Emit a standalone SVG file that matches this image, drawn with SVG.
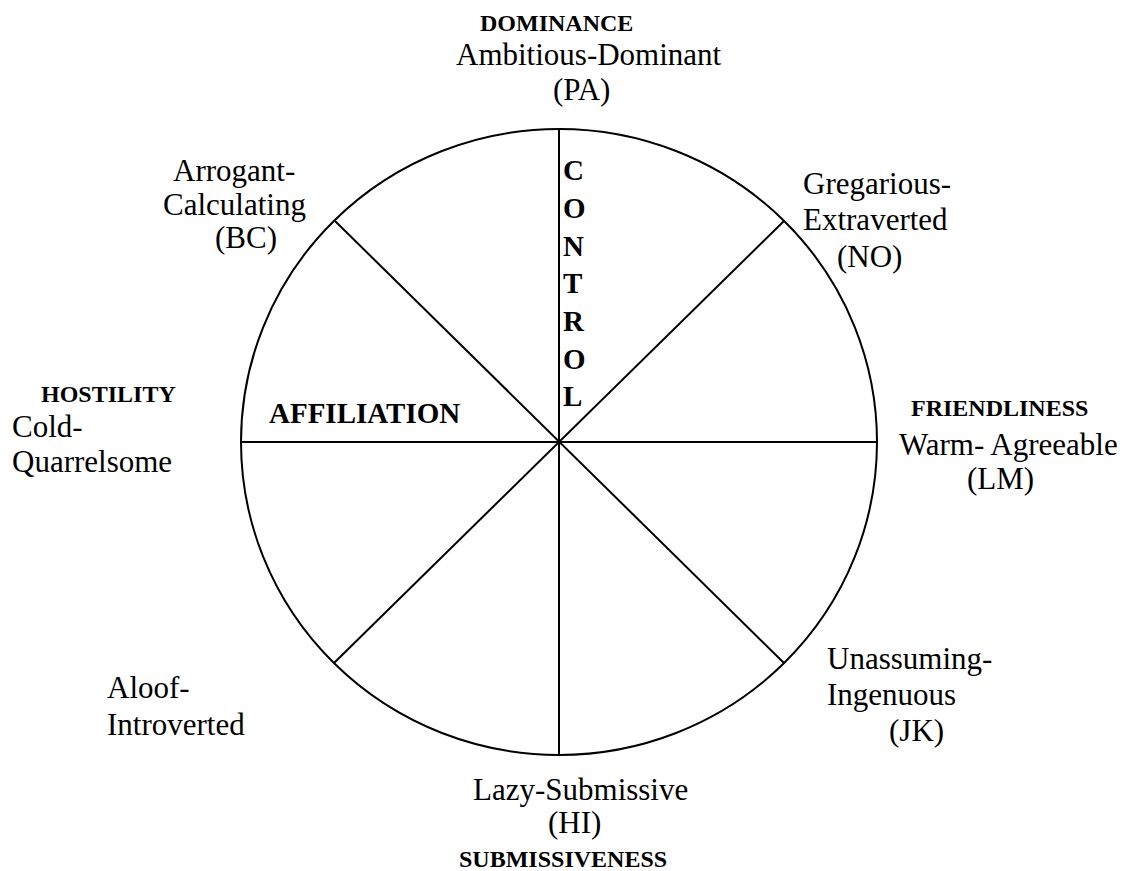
<svg xmlns="http://www.w3.org/2000/svg" width="1139" height="871" viewBox="0 0 1139 871">
<style>
text{font-family:"Liberation Serif","Times New Roman",serif;fill:#000;}
.r{font-size:31px;}
.b{font-size:24px;font-weight:bold;}
.bb{font-size:29px;font-weight:bold;}
.ln{stroke:#000;stroke-width:2;fill:none;}
</style>
<rect width="1139" height="871" fill="#fff"/>
<g id="circle">
<ellipse class="ln" cx="559" cy="442" rx="318" ry="313"/>
</g>
<g id="connectors">
<line class="ln" x1="559" y1="129" x2="559" y2="755"/>
<line class="ln" x1="241" y1="442" x2="877" y2="442"/>
<line class="ln" x1="335" y1="221" x2="784" y2="663"/>
<line class="ln" x1="784" y1="221" x2="334" y2="663"/>
</g>
<g id="dominance">
<text class="b" x="480" y="31">DOMINANCE</text>
<text class="r" x="456" y="65">Ambitious-Dominant</text>
<text class="r" x="553" y="100">(PA)</text>
</g>
<g id="arrogant">
<text class="r" x="173" y="181">Arrogant-</text>
<text class="r" x="163" y="215">Calculating</text>
<text class="r" x="215" y="248">(BC)</text>
</g>
<g id="gregarious">
<text class="r" x="803" y="194">Gregarious-</text>
<text class="r" x="803" y="230">Extraverted</text>
<text class="r" x="837" y="267">(NO)</text>
</g>
<g id="friendliness">
<text class="b" x="911" y="416">FRIENDLINESS</text>
<text class="r" x="899" y="455">Warm- Agreeable</text>
<text class="r" x="967" y="489">(LM)</text>
</g>
<g id="hostility">
<text class="b" x="41" y="402">HOSTILITY</text>
<text class="r" x="12" y="437">Cold-</text>
<text class="r" x="12" y="472">Quarrelsome</text>
</g>
<g id="affiliation">
<text class="bb" x="269" y="423">AFFILIATION</text>
</g>
<g id="control">
<text class="bb" x="563" y="180">C</text>
<text class="bb" x="563" y="218">O</text>
<text class="bb" x="563" y="256">N</text>
<text class="bb" x="563" y="293">T</text>
<text class="bb" x="563" y="331">R</text>
<text class="bb" x="563" y="369">O</text>
<text class="bb" x="563" y="406">L</text>
</g>
<g id="unassuming">
<text class="r" x="827" y="669">Unassuming-</text>
<text class="r" x="827" y="705">Ingenuous</text>
<text class="r" x="889" y="741">(JK)</text>
</g>
<g id="aloof">
<text class="r" x="107" y="698">Aloof-</text>
<text class="r" x="107" y="735">Introverted</text>
</g>
<g id="submissiveness">
<text class="r" x="473" y="800">Lazy-Submissive</text>
<text class="r" x="548" y="833">(HI)</text>
<text class="b" x="459" y="867">SUBMISSIVENESS</text>
</g>
</svg>
